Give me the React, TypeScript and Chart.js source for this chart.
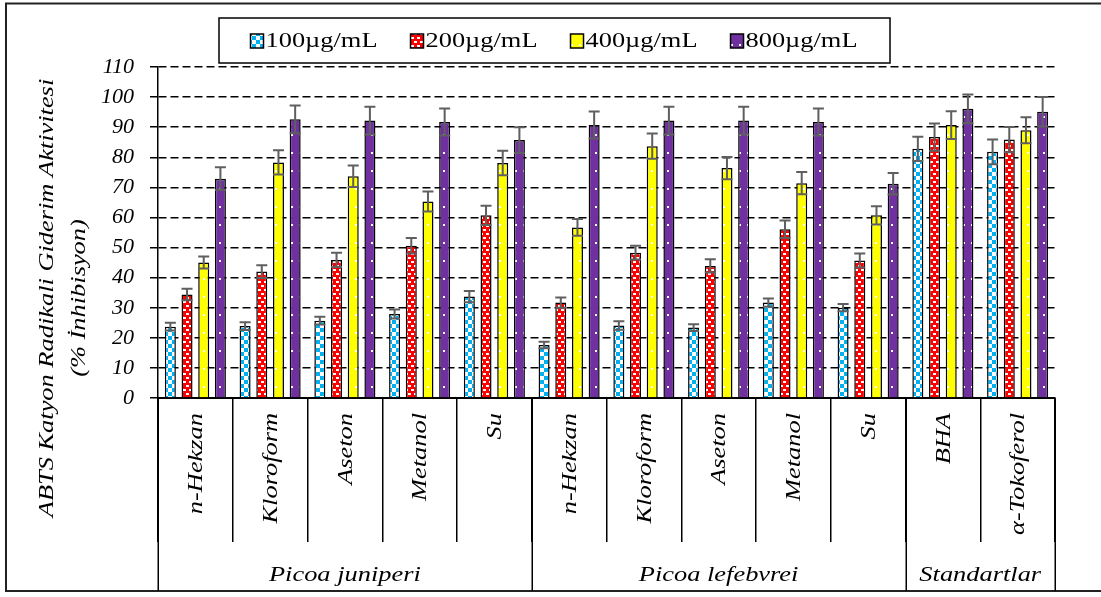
import React, { useEffect, useRef } from "react";
import { Chart, registerables } from "chart.js";

Chart.register(...registerables);

// ---------------- DATA ----------------
const categories = [
  "n-Hekzan", "Kloroform", "Aseton", "Metanol", "Su",
  "n-Hekzan", "Kloroform", "Aseton", "Metanol", "Su",
  "BHA", "α-Tokoferol",
];
const groupNames = ["Picoa juniperi", "Picoa lefebvrei", "Standartlar"];
const groupSizes = [5, 5, 2];
const seriesLabels = ["100µg/mL", "200µg/mL", "400µg/mL", "800µg/mL"];

const values100 = [23.7, 23.9, 25.7, 27.9, 33.7, 17.6, 24.1, 23.4, 31.7, 30.0, 82.8, 81.8];
const errors100 = [1.3, 1.3, 1.3, 1.5, 1.9, 1.1, 1.4, 1.1, 1.4, 1.2, 4.0, 4.1];
const values200 = [34.4, 42.0, 45.9, 50.6, 60.7, 31.7, 48.3, 43.9, 56.1, 45.7, 86.7, 85.9];
const errors200 = [1.9, 2.1, 2.4, 2.6, 3.2, 1.7, 2.3, 2.2, 2.9, 2.3, 4.5, 4.2];
const values400 = [45.0, 78.3, 73.7, 65.3, 78.1, 56.7, 83.7, 76.4, 71.4, 60.7, 90.7, 89.0];
const errors400 = [2.0, 4.0, 3.6, 3.3, 4.1, 2.8, 4.2, 3.7, 3.7, 3.0, 4.6, 4.3];
const values800 = [72.9, 92.6, 92.2, 91.7, 85.7, 90.7, 92.2, 92.2, 91.7, 71.2, 96.1, 95.1];
const errors800 = [3.8, 4.6, 4.6, 4.5, 4.3, 4.5, 4.6, 4.6, 4.5, 3.6, 4.8, 4.9];

const yMin = 0;
const yMax = 110;
const yStep = 10;

const yTitleLines = ["ABTS Katyon Radikali Giderim Aktivitesi", "(% İnhibisyon)"];

// ---------------- STYLE ----------------
const W = 1101;
const H = 597;
const FONT = "'Liberation Serif', 'Times New Roman', Times, serif";
const STRETCH = 1.2;

const seriesValues = [values100, values200, values400, values800];
const seriesErrors = [errors100, errors200, errors400, errors800];

function makePattern(kind: string): CanvasPattern | string {
  const c = document.createElement("canvas");
  const ctx = c.getContext("2d")!;
  if (kind === "checker") {
    c.width = 8; c.height = 8;
    ctx.fillStyle = "#00B0F0"; ctx.fillRect(0, 0, 8, 8);
    ctx.fillStyle = "#FFFFFF";
    ctx.fillRect(4, 0, 4, 4);
    ctx.fillRect(0, 4, 4, 4);
  } else if (kind === "confetti") {
    c.width = 6; c.height = 8;
    ctx.fillStyle = "#FF0000"; ctx.fillRect(0, 0, 6, 8);
    ctx.fillStyle = "#FFFFFF";
    ctx.fillRect(0, 1, 3, 2);
    ctx.fillRect(3, 5, 3, 2);
  } else {
    c.width = 8; c.height = 18;
    ctx.fillStyle = kind === "yellow" ? "#FFFF00" : "#7030A0";
    ctx.fillRect(0, 0, 8, 18);
    ctx.fillStyle = "#FFFFFF";
    ctx.fillRect(3, 8, 2, 2);
  }
  const p = ctx.createPattern(c, "repeat");
  return p || "#888";
}

function drawText(ctx: CanvasRenderingContext2D, text: string, x: number, y: number, rot: number, align: CanvasTextAlign) {
  ctx.save();
  ctx.translate(x, y);
  if (rot) ctx.rotate(rot);
  ctx.scale(STRETCH, 1);
  ctx.textAlign = align;
  ctx.textBaseline = "middle";
  ctx.fillText(text, 0, 0);
  ctx.restore();
}

const decorPlugin = {
  id: "decor",
  afterDatasetsDraw(chart: any) {
    const ctx = chart.ctx as CanvasRenderingContext2D;
    const yScale = chart.scales.y;
    ctx.save();
    ctx.strokeStyle = "#5f5f5f";
    ctx.lineWidth = 2;
    chart.data.datasets.forEach((ds: any, di: number) => {
      const meta = chart.getDatasetMeta(di);
      const errs = seriesErrors[di];
      meta.data.forEach((el: any, i: number) => {
        const v = ds.data[i];
        const e = errs[i];
        const yTop = yScale.getPixelForValue(v + e);
        const yBot = yScale.getPixelForValue(v - e);
        const half = el.width / 2;
        ctx.beginPath();
        ctx.moveTo(el.x, yTop); ctx.lineTo(el.x, yBot);
        ctx.moveTo(el.x - half, yTop); ctx.lineTo(el.x + half, yTop);
        ctx.moveTo(el.x - half, yBot); ctx.lineTo(el.x + half, yBot);
        ctx.stroke();
      });
    });
    ctx.restore();
  },
  afterDraw(chart: any) {
    const ctx = chart.ctx as CanvasRenderingContext2D;
    const xScale = chart.scales.x;
    const area = chart.chartArea;
    const frameBottom = 591;

    ctx.save();
    ctx.strokeStyle = "#222";
    ctx.lineWidth = 2;
    ctx.strokeRect(6, 3.5, W + 10, frameBottom - 3.5);

    ctx.fillStyle = "#000";
    ctx.font = `italic 22px ${FONT}`;

    categories.forEach((c, i) => {
      const x = xScale.getPixelForValue(i) + 1;
      drawText(ctx, c, x, area.bottom + 15, -Math.PI / 2, "right");
    });

    const n = categories.length;
    const boundaryPx = (b: number) => {
      if (b <= 0) return xScale.left;
      if (b >= n) return xScale.right;
      return (xScale.getPixelForValue(b - 1) + xScale.getPixelForValue(b)) / 2;
    };
    let start = 0;
    const bounds = [0];
    groupSizes.forEach((s) => { start += s; bounds.push(start); });
    ctx.strokeStyle = "#000";
    ctx.lineWidth = 1.5;
    bounds.forEach((b) => {
      const x = Math.round(boundaryPx(b)) + 0.25;
      ctx.beginPath();
      ctx.moveTo(x, area.bottom);
      ctx.lineTo(x, frameBottom);
      ctx.stroke();
    });
    groupNames.forEach((g, gi) => {
      const x0 = boundaryPx(bounds[gi]);
      const x1 = boundaryPx(bounds[gi + 1]);
      drawText(ctx, g, (x0 + x1) / 2, 575, 0, "center");
    });

    drawText(ctx, yTitleLines[0], 47, 298, -Math.PI / 2, "center");
    drawText(ctx, yTitleLines[1], 79, 298, -Math.PI / 2, "center");

    const boxL = 219, boxT = 18, boxR = 890, boxB = 63;
    ctx.lineWidth = 1.5;
    ctx.strokeStyle = "#000";
    ctx.strokeRect(boxL, boxT, boxR - boxL, boxB - boxT);
    ctx.font = `22px ${FONT}`;
    let lx = 250.5;
    const midY = 41;
    chart.data.datasets.forEach((ds: any) => {
      ctx.fillStyle = ds.backgroundColor;
      ctx.fillRect(lx, 34, 13, 14);
      ctx.lineWidth = 1.5;
      ctx.strokeStyle = "#000";
      ctx.strokeRect(lx, 34, 13, 14);
      ctx.fillStyle = "#000";
      const tx = lx + 15;
      drawText(ctx, ds.label, tx, midY, 0, "left");
      const tw = ctx.measureText(ds.label).width * STRETCH;
      lx = tx + tw + 33;
    });
    ctx.restore();
  },
};

export default function App() {
  const ref = useRef<HTMLCanvasElement>(null);

  useEffect(() => {
    document.body.style.margin = "0";
    let chart: Chart | null = null;
    let cancelled = false;
    const build = () => {
      if (cancelled) return;
      const canvas = ref.current;
      if (!canvas) return;
      const patterns = [
        makePattern("checker"),
        makePattern("confetti"),
        makePattern("yellow"),
        makePattern("purple"),
      ];
      chart = new Chart(canvas, {
        type: "bar",
        data: {
          labels: categories,
          datasets: seriesValues.map((vals, i) => ({
            label: seriesLabels[i],
            data: vals,
            backgroundColor: patterns[i] as any,
            borderColor: "#000",
            borderWidth: 1.5,
            categoryPercentage: 0.893,
            barPercentage: 0.66,
          })),
        },
        options: {
          animation: false,
          responsive: false,
          maintainAspectRatio: false,
          devicePixelRatio: 1,
          layout: { padding: { top: 67, right: 46, left: 0, bottom: 0 } },
          plugins: {
            legend: { display: false },
            tooltip: { enabled: false },
            title: { display: false },
          },
          scales: {
            x: {
              type: "category",
              offset: true,
              grid: {
                offset: true,
                drawOnChartArea: false,
                drawTicks: true,
                tickLength: 144,
                color: "#000",
                lineWidth: 1.5,
                tickColor: "#000",
                tickWidth: 1.5,
              },
              border: { display: true, color: "#000", width: 2 },
              ticks: { display: false },
              afterFit: (s: any) => { s.height = H - 398; },
            },
            y: {
              min: yMin,
              max: yMax,
              ticks: {
                stepSize: yStep,
                padding: 16,
                color: "#000",
                font: { family: FONT, size: 22, style: "italic" },
              },
              grid: {
                color: "#000",
                lineWidth: 1.5,
                drawTicks: true,
                tickLength: 8,
                tickColor: "#000",
                tickWidth: 1.5,
                tickBorderDash: [],
              },
              border: { display: true, color: "#000", width: 1.5, dash: [8, 4] },
              afterFit: (s: any) => { s.width = 158; },
            },
          },
        } as any,
        plugins: [decorPlugin],
      });
    };
    const fontsApi = (document as any).fonts;
    if (fontsApi && fontsApi.load) {
      Promise.all([
        fontsApi.load("italic 22px 'Liberation Serif'"),
        fontsApi.load("22px 'Liberation Serif'"),
      ]).catch(() => null).then(build);
    } else {
      build();
    }
    return () => {
      cancelled = true;
      if (chart) chart.destroy();
    };
  }, []);

  return (
    <div style={{ width: W, height: H }}>
      <canvas ref={ref} width={W} height={H} style={{ display: "block", width: W, height: H }} />
    </div>
  );
}
